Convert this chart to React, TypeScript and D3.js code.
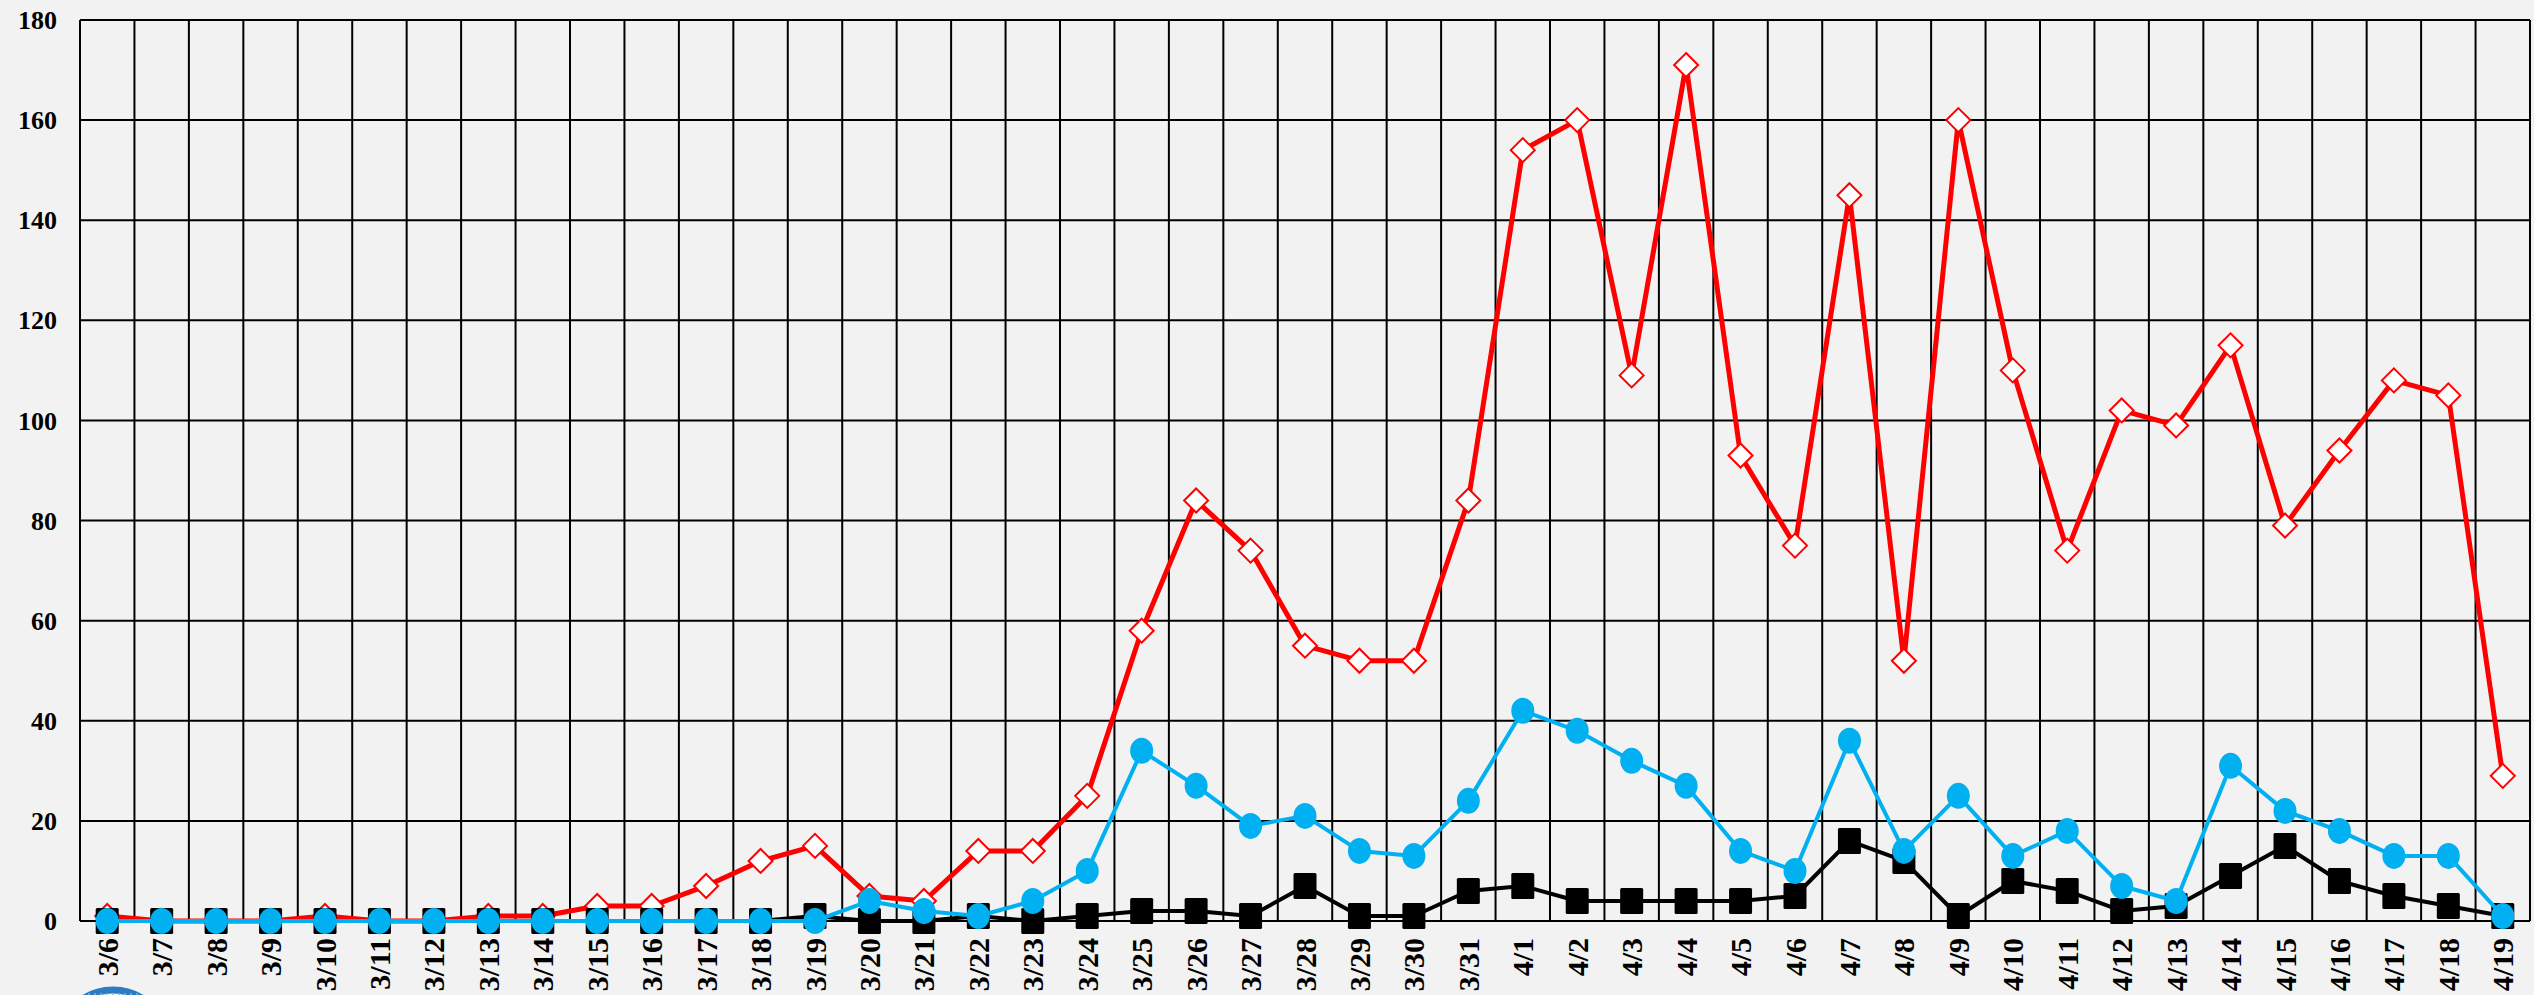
import React, { useEffect, useRef } from "react";
import * as d3 from "d3";

// Dates on the x axis
const dates = [
  "3/6", "3/7", "3/8", "3/9", "3/10", "3/11", "3/12", "3/13", "3/14", "3/15",
  "3/16", "3/17", "3/18", "3/19", "3/20", "3/21", "3/22", "3/23", "3/24", "3/25",
  "3/26", "3/27", "3/28", "3/29", "3/30", "3/31", "4/1", "4/2", "4/3", "4/4",
  "4/5", "4/6", "4/7", "4/8", "4/9", "4/10", "4/11", "4/12", "4/13", "4/14",
  "4/15", "4/16", "4/17", "4/18", "4/19",
];

// Red series (diamonds)
const redValues = [
  1, 0, 0, 0, 1, 0, 0, 1, 1, 3,
  3, 7, 12, 15, 5, 4, 14, 14, 25, 58,
  84, 74, 55, 52, 52, 84, 154, 160, 109, 171,
  93, 75, 145, 52, 160, 110, 74, 102, 99, 115,
  79, 94, 108, 105, 29,
];

// Blue series (circles)
const blueValues = [
  0, 0, 0, 0, 0, 0, 0, 0, 0, 0,
  0, 0, 0, 0, 4, 2, 1, 4, 10, 34,
  27, 19, 21, 14, 13, 24, 42, 38, 32, 27,
  14, 10, 36, 14, 25, 13, 18, 7, 4, 31,
  22, 18, 13, 13, 1,
];

// Black series (squares)
const blackValues = [
  0, 0, 0, 0, 0, 0, 0, 0, 0, 0,
  0, 0, 0, 1, 0, 0, 1, 0, 1, 2,
  2, 1, 7, 1, 1, 6, 7, 4, 4, 4,
  4, 5, 16, 12, 1, 8, 6, 2, 3, 9,
  15, 8, 5, 3, 1,
];

const yTicks = [0, 20, 40, 60, 80, 100, 120, 140, 160, 180];

const App = () => {
  const ref = useRef<SVGSVGElement>(null);

  useEffect(() => {
    document.body.style.margin = "0";
    document.body.style.background = "#f2f2f2";

    const width = 2534,
      height = 995;
    const left = 80,
      right = 2530,
      top = 20,
      bottom = 921;
    const font = "'Liberation Serif', 'Times New Roman', serif";

    const svg = d3.select(ref.current);
    svg.selectAll("*").remove();
    svg.attr("width", width).attr("height", height);

    svg
      .append("rect")
      .attr("width", width)
      .attr("height", height)
      .attr("fill", "#f2f2f2");

    const x = d3.scaleBand().domain(dates).range([left, right]);
    const cx = (d: string) => (x(d) as number) + x.bandwidth() / 2;
    const y = d3.scaleLinear().domain([0, 180]).range([bottom, top]);

    // Grid
    const grid = svg.append("g").attr("stroke", "#000").attr("stroke-width", 2);
    grid
      .selectAll("line.h")
      .data(yTicks)
      .join("line")
      .attr("x1", left)
      .attr("x2", right)
      .attr("y1", (d) => y(d))
      .attr("y2", (d) => y(d));
    grid
      .selectAll("line.v")
      .data(dates.concat(["end"]))
      .join("line")
      .attr("x1", (d, i) => (i < dates.length ? (x(d) as number) : right))
      .attr("x2", (d, i) => (i < dates.length ? (x(d) as number) : right))
      .attr("y1", top)
      .attr("y2", bottom);

    // Y tick labels
    svg
      .append("g")
      .selectAll("text")
      .data(yTicks)
      .join("text")
      .attr("x", 57)
      .attr("y", (d) => y(d))
      .attr("dy", "0.35em")
      .attr("text-anchor", "end")
      .attr("font-family", font)
      .attr("font-weight", "bold")
      .attr("font-size", 26)
      .text((d) => d);

    // X tick labels
    svg
      .append("g")
      .selectAll("text")
      .data(dates)
      .join("text")
      .attr("transform", (d) => `translate(${cx(d)}, 938) rotate(-90)`)
      .attr("dy", "0.35em")
      .attr("text-anchor", "end")
      .attr("font-family", font)
      .attr("font-weight", "bold")
      .attr("font-size", 30)
      .text((d) => d);

    // Logo peeking at the bottom
    const logo = svg.append("g");
    logo
      .append("circle")
      .attr("cx", 113)
      .attr("cy", 1045)
      .attr("r", 55)
      .attr("fill", "#ffffff")
      .attr("stroke", "#2b7cc0")
      .attr("stroke-width", 7);
    for (let i = -4; i <= 4; i++) {
      logo
        .append("line")
        .attr("x1", 113 + i * 6)
        .attr("x2", 113 + i * 6)
        .attr("y1", 993)
        .attr("y2", 1000)
        .attr("stroke", "#7fb6e0")
        .attr("stroke-width", 1.5);
    }

    const line = (vals: number[]) =>
      d3
        .line<number>()
        .x((d, i) => cx(dates[i]))
        .y((d) => y(d))(vals);

    // Red line + diamonds
    svg
      .append("path")
      .attr("d", line(redValues))
      .attr("fill", "none")
      .attr("stroke", "#ff0000")
      .attr("stroke-width", 5)
      .attr("stroke-linejoin", "round");
    svg
      .append("g")
      .selectAll("path")
      .data(redValues)
      .join("path")
      .attr("transform", (d, i) => `translate(${cx(dates[i])}, ${y(d)})`)
      .attr("d", "M0,-12L12,0L0,12L-12,0Z")
      .attr("fill", "#ffffff")
      .attr("stroke", "#ff0000")
      .attr("stroke-width", 2);

    // Black line + squares
    svg
      .append("path")
      .attr("d", line(blackValues))
      .attr("fill", "none")
      .attr("stroke", "#000000")
      .attr("stroke-width", 4)
      .attr("stroke-linejoin", "round");
    svg
      .append("g")
      .selectAll("rect")
      .data(blackValues)
      .join("rect")
      .attr("x", (d, i) => cx(dates[i]) - 11.5)
      .attr("y", (d) => y(d) - 13)
      .attr("width", 23)
      .attr("height", 26)
      .attr("rx", 1.5)
      .attr("fill", "#000000");

    // Blue line + circles
    svg
      .append("path")
      .attr("d", line(blueValues))
      .attr("fill", "none")
      .attr("stroke", "#00b0f0")
      .attr("stroke-width", 4)
      .attr("stroke-linejoin", "round");
    svg
      .append("g")
      .selectAll("ellipse")
      .data(blueValues)
      .join("ellipse")
      .attr("cx", (d, i) => cx(dates[i]))
      .attr("cy", (d) => y(d))
      .attr("rx", 11.5)
      .attr("ry", 13)
      .attr("fill", "#00b0f0");
  }, []);

  return <svg ref={ref} style={{ display: "block" }}></svg>;
};

export default App;
